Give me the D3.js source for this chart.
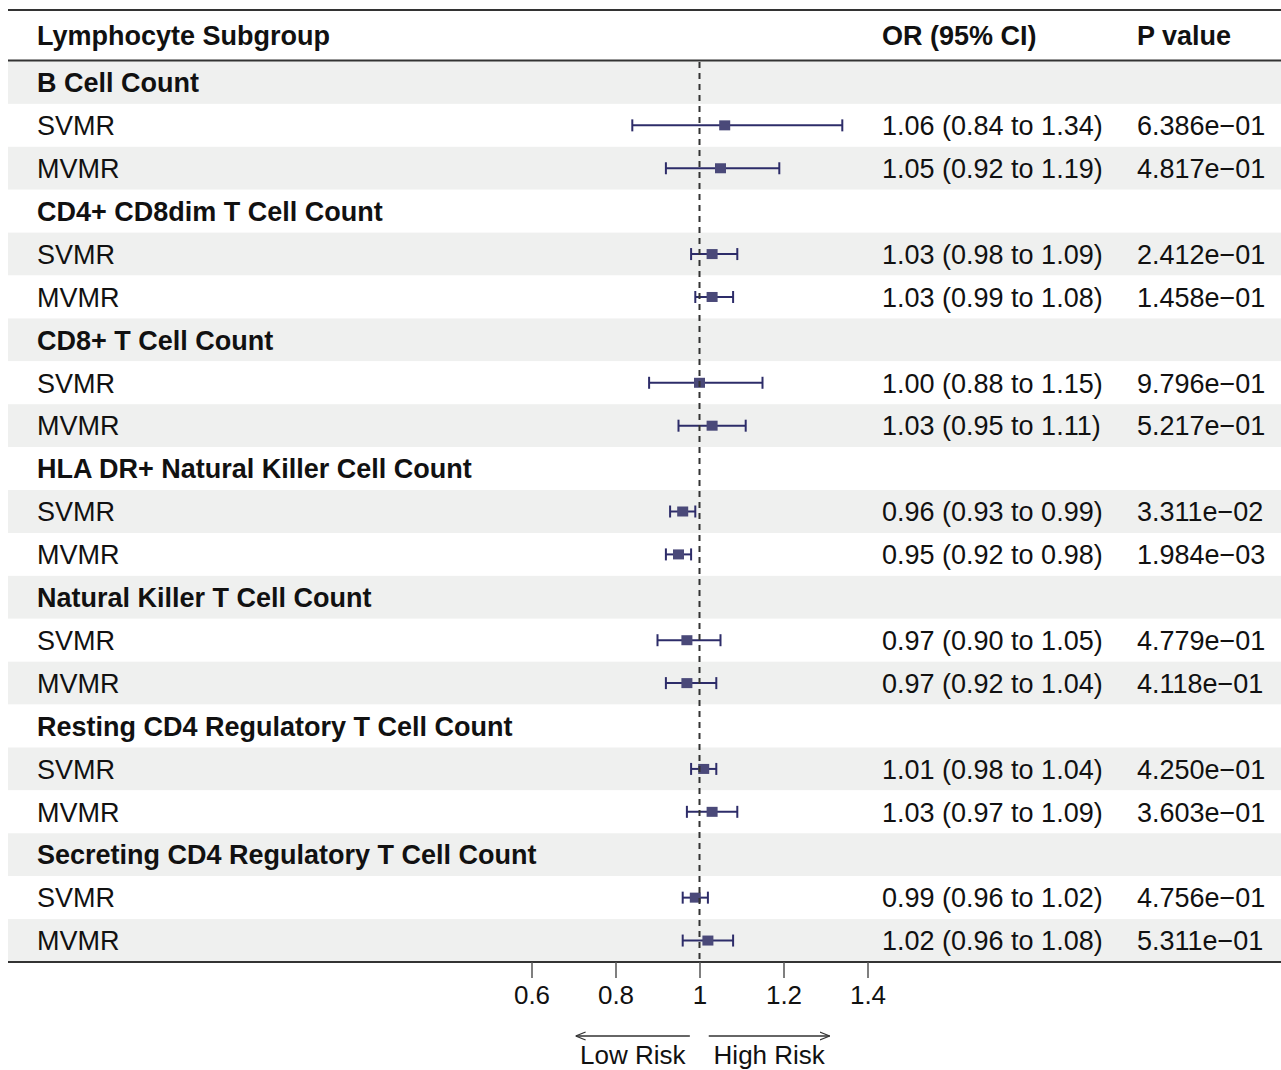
<!DOCTYPE html>
<html>
<head>
<meta charset="utf-8">
<script src="https://cdn.jsdelivr.net/npm/d3@7"></script>
<style>
  body { margin: 0; background: #fff; }
  svg { display: block; font-family: "Liberation Sans", Arial, Helvetica, sans-serif; }
</style>
</head>
<body>
<div id="chart"></div>
<script>
// chart data
var groups = ["B Cell Count", "CD4+ CD8dim T Cell Count", "CD8+ T Cell Count",
  "HLA DR+ Natural Killer Cell Count", "Natural Killer T Cell Count",
  "Resting CD4 Regulatory T Cell Count", "Secreting CD4 Regulatory T Cell Count"];
var methods = ["SVMR", "MVMR"];

var svmrOR = [1.06, 1.03, 1.00, 0.96, 0.97, 1.01, 0.99];
var svmrLo = [0.84, 0.98, 0.88, 0.93, 0.90, 0.98, 0.96];
var svmrHi = [1.34, 1.09, 1.15, 0.99, 1.05, 1.04, 1.02];
var svmrP = ["6.386e\u221201", "2.412e\u221201", "9.796e\u221201", "3.311e\u221202", "4.779e\u221201", "4.250e\u221201", "4.756e\u221201"];

var mvmrOR = [1.05, 1.03, 1.03, 0.95, 0.97, 1.03, 1.02];
var mvmrLo = [0.92, 0.99, 0.95, 0.92, 0.92, 0.97, 0.96];
var mvmrHi = [1.19, 1.08, 1.11, 0.98, 1.04, 1.09, 1.08];
var mvmrP = ["4.817e\u221201", "1.458e\u221201", "5.217e\u221201", "1.984e\u221203", "4.118e\u221201", "3.603e\u221201", "5.311e\u221201"];

var headers = ["Lymphocyte Subgroup", "OR (95% CI)", "P value"];
var xTicks = [0.6, 0.8, 1, 1.2, 1.4];
var refValue = 1;
var lowArrow = [0.977, 0.705];
var highArrow = [1.022, 1.31];
var arrowLabels = ["Low Risk", "High Risk"];

// build rows
var rows = [];
groups.forEach(function(g, i) {
  rows.push({ label: g, bold: true });
  rows.push({ label: methods[0], est: svmrOR[i], lo: svmrLo[i], hi: svmrHi[i], p: svmrP[i] });
  rows.push({ label: methods[1], est: mvmrOR[i], lo: mvmrLo[i], hi: mvmrHi[i], p: mvmrP[i] });
});

var W = 1281, H = 1070;
var fs = 27;
var colLabel = 37, colOR = 882, colP = 1137;
var lineCol = "#2d2c69", boxCol = "#4a4979";

var svg = d3.select("#chart").append("svg")
  .attr("width", W)
  .attr("height", H);

var y = d3.scaleBand().domain(d3.range(rows.length)).range([61, 962]);
var x = d3.scaleLinear().domain([0.6, 1.4]).range([531.5, 867.5]);

// row stripes
svg.append("g").selectAll("rect")
  .data(rows)
  .enter().append("rect")
    .attr("x", 8)
    .attr("y", function(d, i) { return y(i); })
    .attr("width", W - 8)
    .attr("height", y.bandwidth())
    .attr("fill", function(d, i) { return i % 2 === 0 ? "#eff0ef" : "#ffffff"; });

// header
svg.append("line").attr("x1", 8).attr("x2", W).attr("y1", 10).attr("y2", 10)
  .attr("stroke", "#333").attr("stroke-width", 2);
svg.append("line").attr("x1", 8).attr("x2", W).attr("y1", 60.5).attr("y2", 60.5)
  .attr("stroke", "#333").attr("stroke-width", 2);

svg.selectAll(".hdr")
  .data(headers)
  .enter().append("text")
    .attr("class", "hdr")
    .attr("x", function(d, i) { return [colLabel, colOR, colP][i]; })
    .attr("y", 35 + fs * 0.36)
    .attr("font-size", fs)
    .attr("font-weight", "bold")
    .attr("fill", "#111")
    .text(function(d) { return d; });

// table text
var rowG = svg.append("g").selectAll("g")
  .data(rows)
  .enter().append("g")
    .attr("transform", function(d, i) { return "translate(0," + (y(i) + y.bandwidth() / 2) + ")"; });

rowG.append("text")
  .attr("x", colLabel)
  .attr("y", fs * 0.36)
  .attr("font-size", fs)
  .attr("font-weight", function(d) { return d.bold ? "bold" : "normal"; })
  .attr("fill", "#111")
  .text(function(d) { return d.label; });

var est = rowG.filter(function(d) { return d.est !== undefined; });

est.append("text")
  .attr("x", colOR)
  .attr("y", fs * 0.36)
  .attr("font-size", fs)
  .attr("fill", "#111")
  .text(function(d) { return d.est.toFixed(2) + " (" + d.lo.toFixed(2) + " to " + d.hi.toFixed(2) + ")"; });

est.append("text")
  .attr("x", colP)
  .attr("y", fs * 0.36)
  .attr("font-size", fs)
  .attr("fill", "#111")
  .text(function(d) { return d.p; });

// reference line
svg.append("line")
  .attr("x1", x(refValue)).attr("x2", x(refValue))
  .attr("y1", 62).attr("y2", 962)
  .attr("stroke", "#333")
  .attr("stroke-width", 2)
  .attr("stroke-dasharray", "6,5");

// CI lines + caps + boxes
est.append("line")
  .attr("x1", function(d) { return x(d.lo); })
  .attr("x2", function(d) { return x(d.hi); })
  .attr("stroke", lineCol).attr("stroke-width", 2);
est.append("line")
  .attr("x1", function(d) { return x(d.lo); })
  .attr("x2", function(d) { return x(d.lo); })
  .attr("y1", -6).attr("y2", 6)
  .attr("stroke", lineCol).attr("stroke-width", 2);
est.append("line")
  .attr("x1", function(d) { return x(d.hi); })
  .attr("x2", function(d) { return x(d.hi); })
  .attr("y1", -6).attr("y2", 6)
  .attr("stroke", lineCol).attr("stroke-width", 2);
est.append("rect")
  .attr("x", function(d) { return x(d.est) - 5.5; })
  .attr("y", -5)
  .attr("width", 11).attr("height", 10)
  .attr("fill", boxCol);

// bottom line + axis
svg.append("line").attr("x1", 8).attr("x2", W).attr("y1", 962).attr("y2", 962)
  .attr("stroke", "#333").attr("stroke-width", 2);

var axis = svg.append("g")
  .attr("transform", "translate(0,962)")
  .call(d3.axisBottom(x).tickValues(xTicks).tickFormat(d3.format("~g")).tickSize(16).tickPadding(8));
axis.select(".domain").remove();
axis.selectAll(".tick line").attr("stroke", "#555").attr("stroke-width", 1.5);
axis.selectAll(".tick text")
  .attr("font-size", 26)
  .attr("font-family", "Liberation Sans, Arial, sans-serif")
  .attr("fill", "#111");

// arrows
var defs = svg.append("defs");
defs.append("marker")
  .attr("id", "arr")
  .attr("viewBox", "0 0 10 10")
  .attr("refX", 10).attr("refY", 5)
  .attr("markerWidth", 10).attr("markerHeight", 10)
  .attr("markerUnits", "userSpaceOnUse")
  .attr("orient", "auto")
  .append("path")
    .attr("d", "M0,1 L10,5 L0,9")
    .attr("fill", "none")
    .attr("stroke", "#333")
    .attr("stroke-width", 1.3);

[lowArrow, highArrow].forEach(function(a, i) {
  svg.append("line")
    .attr("x1", x(a[0])).attr("x2", x(a[1]))
    .attr("y1", 1036).attr("y2", 1036)
    .attr("stroke", "#333").attr("stroke-width", 1.3)
    .attr("marker-end", "url(#arr)");
  svg.append("text")
    .attr("x", (x(a[0]) + x(a[1])) / 2)
    .attr("y", 1064)
    .attr("text-anchor", "middle")
    .attr("font-size", 26)
    .attr("fill", "#111")
    .text(arrowLabels[i]);
});
</script>
</body>
</html>
